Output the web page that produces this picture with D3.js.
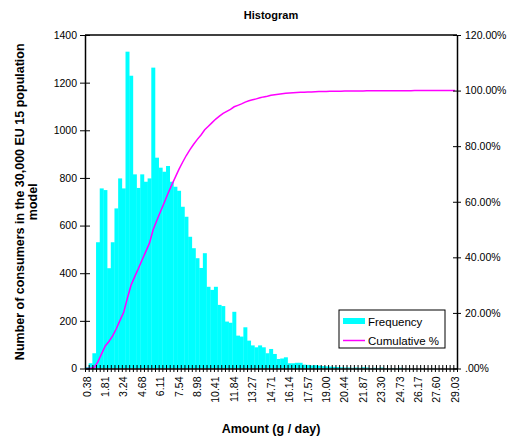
<!DOCTYPE html>
<html>
<head>
<meta charset="utf-8">
<script src="https://cdn.jsdelivr.net/npm/d3@7"></script>
<style>
  body { margin: 0; background: #fff; }
  text { font-family: Arial, "Liberation Sans", sans-serif; fill: #000; }
</style>
</head>
<body>
<script>
// histogram bins (one value per bin, bins of ~0.29 g/day starting at 0.38)
var frequency = [
  5, 22, 64, 530, 756, 749, 421, 530, 672, 798,
  756, 1330, 1229, 815, 758, 815, 784, 798, 1263, 885,
  843, 826, 850, 784, 763, 746, 679, 637, 553, 505,
  463, 422, 484, 343, 330, 343, 267, 262, 197, 192,
  238, 138, 134, 173, 117, 97, 89, 97, 89, 64,
  82, 61, 40, 42, 47, 22, 22, 24, 24, 16,
  15, 13, 14, 12, 10, 9, 8, 7, 6, 5,
  4, 4, 3, 4, 3, 5, 4, 2, 3, 2,
  4, 2, 1, 2, 1, 3, 1, 1, 0, 1,
  0, 1, 0, 0, 1, 0, 0, 0, 0, 0,
  1
];
// labels shown on every 5th bin
var tickLabels = ["0.38", "1.81", "3.24", "4.68", "6.11", "7.54", "8.98", "10.41", "11.84", "13.27",
  "14.71", "16.14", "17.57", "19.00", "20.44", "21.87", "23.30", "24.73", "26.17", "27.60", "29.03"];
var yTicks = [0, 200, 400, 600, 800, 1000, 1200, 1400];
var y2Ticks = [0, 0.2, 0.4, 0.6, 0.8, 1.0, 1.2];

var margin = {top: 35, right: 67, bottom: 69.5, left: 85},
    width = 524 - margin.left - margin.right,
    height = 438 - margin.top - margin.bottom;

var total = d3.sum(frequency);
var cumulative = d3.cumsum(frequency).map(function(d) { return d / total; });

var xScale = d3.scaleBand()
    .domain(d3.range(frequency.length))
    .range([0, width])
    .padding(0);
var xEdge = d3.scaleLinear()
    .domain([0, frequency.length])
    .range([0, width]);
var yScale = d3.scaleLinear().domain([0, 1400]).range([height, 0]);
var y2Scale = d3.scaleLinear().domain([0, 1.2]).range([height, 0]);

var svg = d3.select("body").append("svg")
    .attr("width", 524)
    .attr("height", 438);

var g = svg.append("g")
    .attr("transform", "translate(" + margin.left + "," + margin.top + ")");

// bars
g.selectAll("rect.bar")
  .data(frequency)
  .enter().append("rect")
    .attr("class", "bar")
    .attr("x", function(d, i) { return xScale(i); })
    .attr("y", function(d) { return yScale(d); })
    .attr("width", xScale.bandwidth() + 0.3)
    .attr("height", function(d) { return height - yScale(d); })
    .attr("fill", "#00ffff");

// cumulative line
var line = d3.line()
    .x(function(d, i) { return xScale(i) + xScale.bandwidth() / 2; })
    .y(function(d) { return y2Scale(d); });

g.append("path")
    .attr("d", line(cumulative))
    .attr("fill", "none")
    .attr("stroke", "#ff00ff")
    .attr("stroke-width", 1.5);

// plot frame top
g.append("line")
    .attr("x1", 0).attr("x2", width)
    .attr("y1", 0).attr("y2", 0)
    .attr("stroke", "#000").attr("stroke-width", 1.5);

// left axis
var yAxis = g.append("g")
    .call(d3.axisLeft(yScale).tickValues(yTicks).tickSize(5).tickSizeOuter(0).tickPadding(3)
      .tickFormat(d3.format("d")));
yAxis.selectAll(".tick line").attr("x1", 5);
yAxis.select(".domain").attr("stroke-width", 1.5);
yAxis.selectAll("text").attr("font-size", "10.5px").attr("font-family", null);

// right axis
var y2Axis = g.append("g")
    .attr("transform", "translate(" + width + ",0)")
    .call(d3.axisRight(y2Scale).tickValues(y2Ticks).tickSize(4).tickSizeOuter(0).tickPadding(4)
      .tickFormat(function(d) { return d === 0 ? ".00%" : (d * 100).toFixed(2) + "%"; }));
y2Axis.selectAll(".tick line").attr("x1", -4);
y2Axis.select(".domain").attr("stroke-width", 1.5);
y2Axis.selectAll("text").attr("font-size", "10.5px").attr("font-family", null);

// bottom axis: tick marks at bin edges
var xEdgeAxis = g.append("g")
    .attr("transform", "translate(0," + height + ")")
    .call(d3.axisBottom(xEdge).tickValues(d3.range(frequency.length + 1)).tickSize(3.5).tickSizeOuter(0).tickFormat(""));
xEdgeAxis.selectAll(".tick line").attr("y1", -3.5);
xEdgeAxis.select(".domain").attr("stroke-width", 1.5);

// bottom axis labels every 5th bin
var xAxis = g.append("g")
    .attr("transform", "translate(0," + height + ")")
    .call(d3.axisBottom(xScale)
      .tickValues(d3.range(0, frequency.length, 5))
      .tickSize(0)
      .tickFormat(function(d) { return tickLabels[d / 5]; }));
xAxis.select(".domain").remove();
xAxis.selectAll("text")
    .attr("transform", "rotate(-90)")
    .attr("x", -8)
    .attr("y", 0)
    .attr("dy", "0.35em")
    .attr("font-size", "10.5px")
    .attr("font-family", null)
    .style("text-anchor", "end");

// titles
svg.append("text")
    .attr("x", margin.left + width / 2)
    .attr("y", 19)
    .attr("text-anchor", "middle")
    .attr("font-size", "11px")
    .attr("font-weight", "bold")
    .text("Histogram");

svg.append("text")
    .attr("x", margin.left + width / 2)
    .attr("y", 433)
    .attr("text-anchor", "middle")
    .attr("font-size", "12.5px")
    .attr("font-weight", "bold")
    .text("Amount (g / day)");

var yTitle = svg.append("text")
    .attr("transform", "translate(24," + (margin.top + height / 2) + ") rotate(-90)")
    .attr("text-anchor", "middle")
    .attr("font-size", "12.5px")
    .attr("font-weight", "bold");
yTitle.append("tspan").attr("x", 0).attr("y", 0)
    .text("Number of consumers in the 30,000 EU 15 population");
yTitle.append("tspan").attr("x", 0).attr("y", 13)
    .text("model");

// legend
var legend = svg.append("g").attr("transform", "translate(339,310)");
legend.append("rect")
    .attr("width", 106).attr("height", 38)
    .attr("fill", "#fff").attr("stroke", "#000").attr("stroke-width", 1);
legend.append("rect")
    .attr("x", 4).attr("y", 8).attr("width", 22).attr("height", 6)
    .attr("fill", "#00ffff");
legend.append("line")
    .attr("x1", 4).attr("x2", 26).attr("y1", 30.5).attr("y2", 30.5)
    .attr("stroke", "#ff00ff").attr("stroke-width", 1.5);
legend.append("text").attr("x", 29).attr("y", 15.5)
    .attr("font-size", "11.5px").text("Frequency");
legend.append("text").attr("x", 29).attr("y", 34.5)
    .attr("font-size", "11.5px").text("Cumulative %");
</script>
</body>
</html>
